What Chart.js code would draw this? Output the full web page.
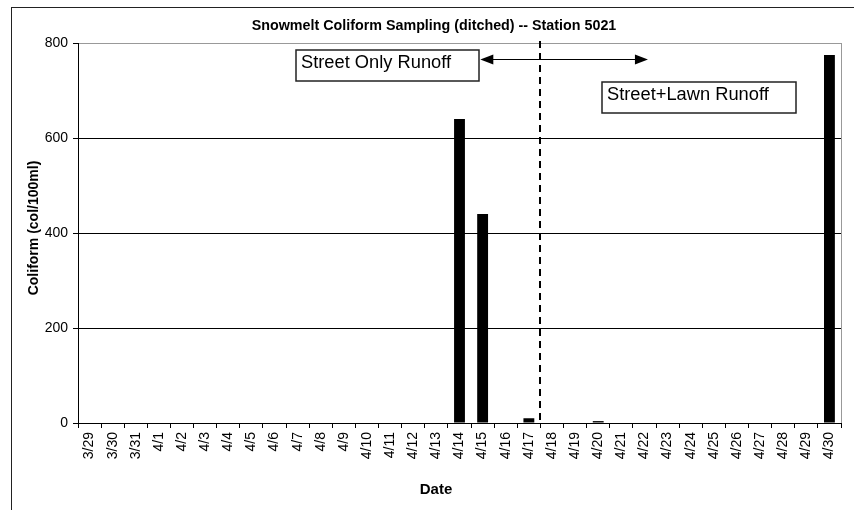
<!DOCTYPE html>
<html>
<head>
    <title>Snowmelt Coliform Sampling</title>
    <script src="https://cdn.jsdelivr.net/npm/chart.js"></script>
    <style>
        body {
            background-color: white;
            margin: 0;
            padding: 0;
        }
        #chartBox {
            width: 854px;
            height: 510px;
        }
    </style>
</head>
<body>
    <div id="chartBox">
        <canvas id="coliformChart"></canvas>
    </div>

    <script>
    // sampling dates and coliform counts (col/100ml)
    const dates = ['3/29', '3/30', '3/31', '4/1', '4/2', '4/3', '4/4', '4/5', '4/6', '4/7', '4/8',
        '4/9', '4/10', '4/11', '4/12', '4/13', '4/14', '4/15', '4/16', '4/17', '4/18', '4/19',
        '4/20', '4/21', '4/22', '4/23', '4/24', '4/25', '4/26', '4/27', '4/28', '4/29', '4/30'];
    const coliform = [0, 0, 0, 0, 0, 0, 0, 0, 0, 0, 0,
        0, 0, 0, 0, 0, 640, 440, 0, 10, 0, 0,
        4, 0, 0, 0, 0, 0, 0, 0, 0, 0, 775];
    const yTicks = [0, 200, 400, 600, 800];

    const chartTitle = 'Snowmelt Coliform Sampling (ditched) -- Station 5021';
    const yTitle = 'Coliform (col/100ml)';
    const xTitle = 'Date';

    // frame, titles, and the two runoff notes with the divider
    const decorations = {
        id: 'decorations',
        afterDatasetsDraw(chart) {
            const ctx = chart.ctx;
            const area = chart.chartArea;
            const xs = chart.scales.x;
            const ys = chart.scales.y;
            ctx.save();

            // outer frame (runs off the page on the right and bottom)
            ctx.strokeStyle = '#222';
            ctx.lineWidth = 1;
            ctx.strokeRect(11.5, 7.5, 900, 600);

            // gray right edge of plot area
            ctx.strokeStyle = '#999';
            ctx.beginPath();
            ctx.moveTo(area.right + 0.5, area.top);
            ctx.lineTo(area.right + 0.5, area.bottom);
            ctx.stroke();

            // titles
            ctx.fillStyle = 'black';
            ctx.textAlign = 'center';
            ctx.textBaseline = 'middle';
            ctx.font = 'bold 14.3px "Liberation Sans", Arial, sans-serif';
            ctx.fillText(chartTitle, 434, 26);
            ctx.font = 'bold 15px "Liberation Sans", Arial, sans-serif';
            ctx.fillText(xTitle, 436, 490);
            ctx.save();
            ctx.translate(34, 228);
            ctx.rotate(-Math.PI / 2);
            ctx.font = 'bold 14px "Liberation Sans", Arial, sans-serif';
            ctx.fillText(yTitle, 0, 0);
            ctx.restore();

            // dashed divider between 4/17 and 4/18
            const divX = Math.round(xs.getPixelForValue(19.5));
            ctx.strokeStyle = 'black';
            ctx.lineWidth = 2;
            ctx.setLineDash([7, 5]);
            ctx.beginPath();
            ctx.moveTo(divX, area.top - 2);
            ctx.lineTo(divX, area.bottom);
            ctx.stroke();
            ctx.setLineDash([]);

            // double-headed arrow
            const ay = Math.round(ys.getPixelForValue(766)) + 0.5;
            const ax1 = xs.getPixelForValue(16.9);
            const ax2 = xs.getPixelForValue(24.15);
            ctx.lineWidth = 1.2;
            ctx.beginPath();
            ctx.moveTo(ax1 + 10, ay);
            ctx.lineTo(ax2 - 10, ay);
            ctx.stroke();
            ctx.beginPath();
            ctx.moveTo(ax1, ay);
            ctx.lineTo(ax1 + 13, ay - 5);
            ctx.lineTo(ax1 + 13, ay + 5);
            ctx.closePath();
            ctx.fill();
            ctx.beginPath();
            ctx.moveTo(ax2, ay);
            ctx.lineTo(ax2 - 13, ay - 5);
            ctx.lineTo(ax2 - 13, ay + 5);
            ctx.closePath();
            ctx.fill();

            // text boxes
            ctx.font = '18.3px "Liberation Sans", Arial, sans-serif';
            ctx.textAlign = 'left';
            ctx.textBaseline = 'alphabetic';
            ctx.lineWidth = 1.5;
            ctx.strokeStyle = '#222';
            const notes = [
                { text: 'Street Only Runoff', x: area.left + 218, y: area.top + 7, w: 183, h: 31 },
                { text: 'Street+Lawn Runoff', x: area.left + 524, y: area.top + 39, w: 194, h: 31 }
            ];
            notes.forEach(n => {
                ctx.fillStyle = 'white';
                ctx.fillRect(n.x, n.y, n.w, n.h);
                ctx.strokeRect(n.x, n.y, n.w, n.h);
                ctx.fillStyle = 'black';
                ctx.fillText(n.text, n.x + 5, n.y + 18);
            });

            ctx.restore();
        }
    };

    const ctx = document.getElementById('coliformChart').getContext('2d');
    new Chart(ctx, {
        type: 'bar',
        data: {
            labels: dates,
            datasets: [{
                label: 'Coliform',
                data: coliform,
                backgroundColor: 'black',
                borderWidth: 0,
                barPercentage: 0.47,
                categoryPercentage: 1.0
            }]
        },
        options: {
            responsive: true,
            maintainAspectRatio: false,
            animation: false,
            layout: {
                padding: { left: 0, right: 13, top: 43, bottom: 0 }
            },
            plugins: {
                legend: { display: false },
                title: { display: false },
                tooltip: { enabled: false }
            },
            scales: {
                x: {
                    afterFit: s => { s.height = 87; },
                    grid: {
                        offset: true,
                        drawOnChartArea: false,
                        tickLength: 5,
                        color: 'black'
                    },
                    border: { color: 'black', width: 1 },
                    ticks: {
                        autoSkip: false,
                        minRotation: 90,
                        maxRotation: 90,
                        padding: 4,
                        color: 'black',
                        font: { family: '"Liberation Sans", Arial, sans-serif', size: 14 }
                    }
                },
                y: {
                    min: 0,
                    max: 800,
                    afterFit: s => { s.width = 78; },
                    afterBuildTicks: s => { s.ticks = yTicks.map(v => ({ value: v })); },
                    grid: {
                        tickLength: 5,
                        color: c => (c.tick && c.tick.value === 800 ? '#999' : 'black'),
                        tickColor: 'black'
                    },
                    border: { color: 'black', width: 1 },
                    ticks: {
                        padding: 5,
                        color: 'black',
                        font: { family: '"Liberation Sans", Arial, sans-serif', size: 14 }
                    }
                }
            }
        },
        plugins: [decorations]
    });
    </script>
</body>
</html>
